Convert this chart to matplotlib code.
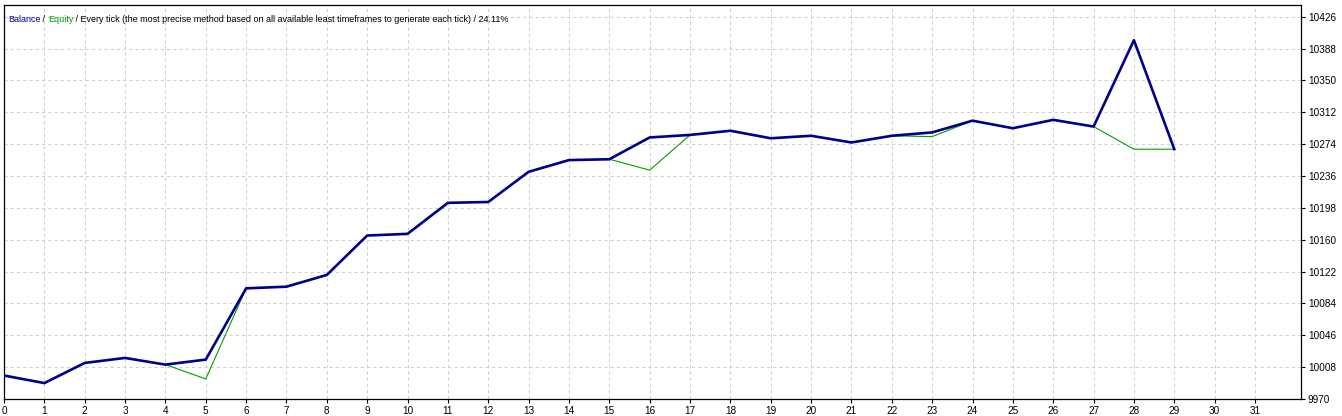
import matplotlib
matplotlib.use("Agg")
import matplotlib.pyplot as plt
import numpy as np

plt.rcParams['font.family'] = ['Liberation Sans', 'DejaVu Sans']

# Data
trades = np.arange(30)
balance = [9998, 9989, 10013, 10019, 10011, 10017, 10102, 10104, 10118, 10165,
           10167, 10204, 10205, 10241, 10255, 10256, 10282, 10285, 10290, 10281,
           10284, 10276, 10284, 10288, 10302, 10293, 10303, 10295, 10398, 10268]
equity = [9998, 9989, 10013, 10019, 10011, 9994, 10102, 10104, 10118, 10165,
          10167, 10204, 10205, 10241, 10255, 10256, 10243, 10285, 10290, 10281,
          10284, 10276, 10284, 10283, 10302, 10293, 10303, 10295, 10268, 10268]
y_ticks = [9970, 10008, 10046, 10084, 10122, 10160, 10198, 10236, 10274, 10312, 10350, 10388, 10426]
x_ticks = list(range(32))

fig = plt.figure(figsize=(13.42, 4.16), dpi=100)
ax = fig.add_axes([4 / 1342, 17 / 416, 1297 / 1342, 394 / 416])

ax.plot(trades, equity, color="#00a000", linewidth=0.8, zorder=3)
ax.plot(trades, balance, color="#00008b", linewidth=1.9, zorder=4)

ax.set_xlim(0, 32.14)
ax.set_ylim(9970, 10440)
ax.set_xticks(x_ticks)
ax.set_yticks(y_ticks)
ax.yaxis.tick_right()
ax.tick_params(axis="both", labelsize=7.2, length=3, width=0.8, pad=2, colors="black")

# dashed grid
ax.grid(True, color="#cfcfcf", linestyle=(0, (3, 3)), linewidth=0.75)
ax.set_axisbelow(True)
for s in ax.spines.values():
    s.set_color("black")
    s.set_linewidth(0.9)

# Header line: coloured pieces placed one after another
parts = [("Balance", "#0000a0"), (" / ", "black"), ("Equity", "#00a000"),
         (" / Every tick (the most precise method based on all available least timeframes to generate each tick) / 24.11%", "black")]
prev = ax.text(0.003, 0.975, parts[0][0], transform=ax.transAxes, color=parts[0][1],
               fontsize=6.5, va="top", ha="left")
for txt, col in parts[1:]:
    prev = ax.annotate(txt, xy=(1, 0), xycoords=prev, color=col, fontsize=6.5,
                       va="bottom", ha="left")

fig.savefig("out.png", dpi=100)
